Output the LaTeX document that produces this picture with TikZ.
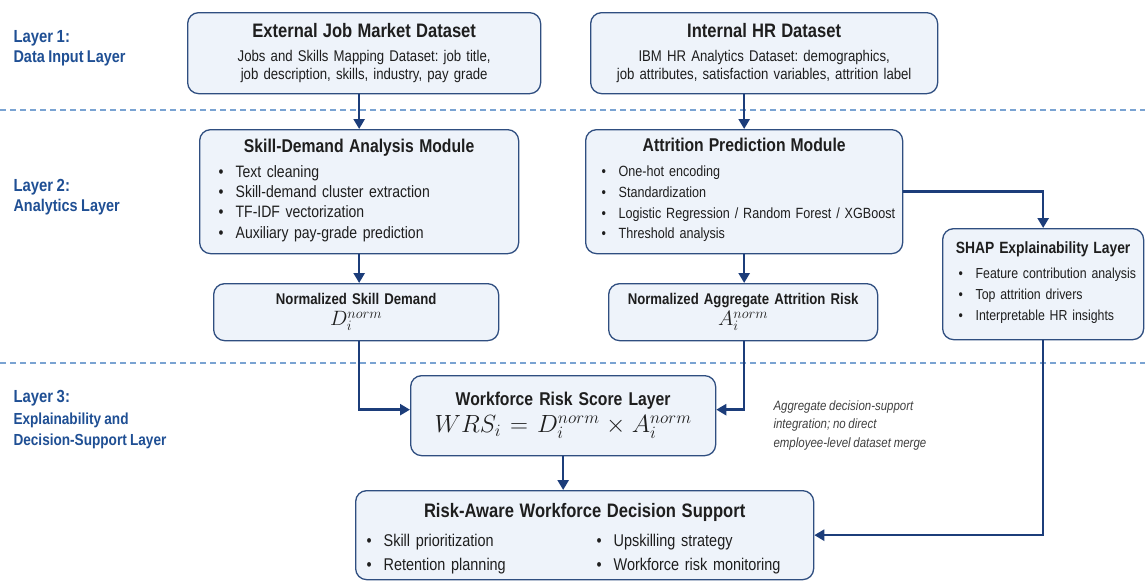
\documentclass[tikz,border=0pt]{standalone}
\usepackage{fontspec}
\setmainfont{Liberation Sans}[FakeStretch=0.85, WordSpace=0.85]
\usetikzlibrary{arrows.meta}
\frenchspacing

\definecolor{navy}{HTML}{1C3D7A}
\definecolor{boxline}{HTML}{2F4E80}
\definecolor{boxfill}{HTML}{EEF3FA}
\definecolor{layerblue}{HTML}{1F4F94}
\definecolor{sepblue}{HTML}{7AA3D2}
\definecolor{ink}{HTML}{1E1E1E}

% fonts and lists used in the boxes
\newcommand\ttlbig{\bfseries\fontsize{19.5}{22}\selectfont}
\newcommand\ttlmid{\bfseries\fontsize{18.5}{22}\selectfont}
\newcommand\ttlsml{\bfseries\fontsize{15.5}{19}\selectfont}
\newcommand\bul{\makebox[17pt][l]{\textbullet}}
\newcommand\blist[2]{\makebox[#1][l]{\begin{tabular}[t]{@{}l@{}}#2\end{tabular}}}

\begin{document}
\begin{tikzpicture}
    [x=1pt, y=-1pt,
    box/.style={draw=boxline, fill=boxfill, line width=1.3pt, rounded corners=11pt,
        anchor=north west, inner sep=0pt, align=center, text=ink},
    arr/.style={draw=navy, line width=2.6pt, -{Triangle[length=10pt,width=11pt]}},
    sep/.style={draw=sepblue, line width=1.1pt, dash pattern=on 6pt off 4pt},
    lyr/.style={anchor=west, align=left, text=layerblue,
        font=\bfseries\fontsize{17}{20.5}\selectfont},
    note/.style={anchor=north west, align=left, text=ink!85,
        font=\itshape\fontsize{13.5}{18.5}\selectfont}]

    \useasboundingbox[fill=white] (0,0) rectangle (1145,581);

    % layer separators
    \draw[sep] (0,110) -- (1145,110);
    \draw[sep] (0,363) -- (1145,363);

    % layer labels
    \node[lyr] (lay1) at (10,48) {{\fontsize{17.5}{20.5}\selectfont Layer 1:}\\Data Input Layer};
    \node[lyr] (lay2) at (10,197) {{\fontsize{17.5}{20.5}\selectfont Layer 2:}\\Analytics Layer};
    \node[lyr, font=\bfseries\fontsize{16}{21.5}\selectfont] (lay3) at (10,420)
        {{\fontsize{17.5}{21.5}\selectfont Layer 3:}\\Explainability and\\Decision-Support Layer};

    % Layer 1: inputs
    \node[box, minimum width=353pt, minimum height=81pt, text width=330pt,
        font=\fontsize{15.5}{18}\selectfont] (ext) at (187,12)
        {{\ttlbig External Job Market Dataset}\\[6pt]
         Jobs and Skills Mapping Dataset: job title,\\
         job description, skills, industry, pay grade};
    \node[box, minimum width=347pt, minimum height=81pt, text width=325pt,
        font=\fontsize{15.5}{18}\selectfont] (int) at (590,12)
        {{\ttlbig Internal HR Dataset}\\[6pt]
         IBM HR Analytics Dataset: demographics,\\
         job attributes, satisfaction variables, attrition label};

    % Layer 2: analytics
    \node[box, minimum width=319pt, minimum height=124pt, text width=281pt,
        font=\fontsize{16.5}{20.3}\selectfont] (skl) at (199,129)
        {{\ttlmid Skill-Demand Analysis Module}\\[4.5pt]
         \blist{281pt}{\bul Text cleaning\\
         \bul Skill-demand cluster extraction\\
         \bul TF-IDF vectorization\\
         \bul Auxiliary pay-grade prediction}};
    \node[box, minimum width=317pt, minimum height=124pt, text width=285pt,
        font=\fontsize{14.8}{20.8}\selectfont] (att) at (585,129)
        {{\ttlmid Attrition Prediction Module}\\[4pt]
         \blist{285pt}{\bul One-hot encoding\\
         \bul Standardization\\
         \bul Logistic Regression / Random Forest / XGBoost\\
         \bul Threshold analysis}};
    \node[box, minimum width=285pt, minimum height=57pt, text width=260pt,
        font=\fontsize{15.5}{21}\selectfont] (nsd) at (213,283)
        {{\ttlsml Normalized Skill Demand}\\
         {\fontsize{20.5}{21}\selectfont $D_i^{norm}$}};
    \node[box, minimum width=269pt, minimum height=57pt, text width=250pt,
        font=\fontsize{15.5}{21}\selectfont] (nar) at (608,283)
        {{\ttlsml Normalized Aggregate Attrition Risk}\\
         {\fontsize{20.5}{21}\selectfont $A_i^{norm}$}};
    \node[box, minimum width=201pt, minimum height=111pt, text width=185pt,
        font=\fontsize{14.5}{21}\selectfont] (shap) at (942,228)
        {{\bfseries\fontsize{16.3}{19}\selectfont SHAP Explainability Layer}\\[4pt]
         \blist{169pt}{\bul Feature contribution analysis\\
         \bul Top attrition drivers\\
         \bul Interpretable HR insights}};

    % Layer 3: risk score and decisions
    \node[box, minimum width=305pt, minimum height=80pt, text width=280pt,
        font=\fontsize{18.5}{27}\selectfont] (wrs) at (410,375)
        {{\ttlmid Workforce Risk Score Layer}\\
         {\fontsize{24}{27}\selectfont $WRS_i = D_i^{norm} \times A_i^{norm}$}};
    \node[box, minimum width=458pt, minimum height=89pt, text width=436pt,
        font=\fontsize{17}{24}\selectfont] (dec) at (355,490)
        {{\ttlbig\rule{0pt}{25pt}Risk-Aware Workforce Decision Support}\\[5pt]
         \begin{tabular}[t]{@{}p{230pt}@{}p{206pt}@{}}
         \bul Skill prioritization & \bul Upskilling strategy\\
         \bul Retention planning & \bul Workforce risk monitoring
         \end{tabular}};

    \node[note] (integ) at (770,397)
        {Aggregate decision-support\\integration; no direct\\employee-level dataset merge};

    % connectors
    \draw[arr] (ext.south -| skl.north) -- (skl.north);
    \draw[arr] (int.south -| att.north) -- (att.north);
    \draw[arr] (skl.south) -- (skl.south |- nsd.north);
    \draw[arr] (att.south) -- (att.south |- nar.north);
    \draw[arr] (att.east) -| (shap.north);
    \draw[arr] (nsd.south -| skl.south) |- ([yshift=6pt]wrs.west);
    \draw[arr] (nar.south -| att.south) |- ([yshift=6pt]wrs.east);
    \draw[arr] (wrs.south) -- (wrs.south |- dec.north);
    \draw[arr] (shap.south) |- (dec.east);

\end{tikzpicture}
\end{document}
